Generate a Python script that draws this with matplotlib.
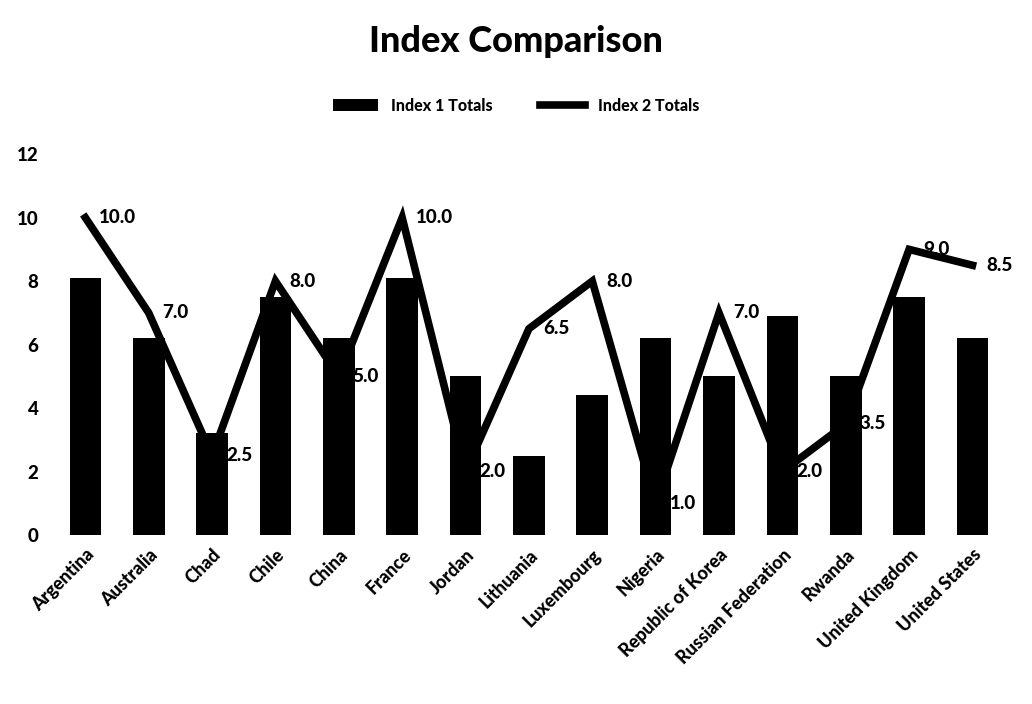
import matplotlib.pyplot as plt
import numpy as np

plt.rcParams['font.family'] = ['Lato', 'DejaVu Sans']

countries = ['Argentina', 'Australia', 'Chad', 'Chile', 'China', 'France', 'Jordan',
             'Lithuania', 'Luxembourg', 'Nigeria', 'Republic of Korea',
             'Russian Federation', 'Rwanda', 'United Kingdom', 'United States']
index1 = [8.1, 6.2, 3.2, 7.5, 6.2, 8.1, 5.0, 2.5, 4.4, 6.2, 5.0, 6.9, 5.0, 7.5, 6.2]
index2 = [10.0, 7.0, 2.5, 8.0, 5.0, 10.0, 2.0, 6.5, 8.0, 1.0, 7.0, 2.0, 3.5, 9.0, 8.5]

x = np.arange(len(countries))

fig = plt.figure(figsize=(10.32, 7.04), dpi=100)
ax = fig.add_axes([0.052, 0.24, 0.921, 0.541])

# line sits behind the bars, labels on top of everything
ax.plot(x, index2, color='black', linewidth=5.5, zorder=2, label='Index 2 Totals',
        solid_joinstyle='miter')
ax.bar(x, index1, width=0.5, color='black', zorder=3, label='Index 1 Totals')

for xi, v in zip(x, index2):
    ax.annotate(f'{v:.1f}', (xi, v), xytext=(10, 0), textcoords='offset points',
                ha='left', va='center', fontsize=13.5, fontweight='black', zorder=5)

ax.set_ylim(0, 12)
ax.set_yticks(range(0, 13, 2))
ax.set_xlim(-0.5, len(countries) - 0.5)
ax.set_xticks(x)
ax.set_xticklabels(countries, rotation=45, ha='right', rotation_mode='anchor',
                   fontsize=13, fontweight='black')
for lbl in ax.get_yticklabels():
    lbl.set_fontsize(13.5)
    lbl.set_fontweight('black')
ax.tick_params(length=0, pad=8)
ax.tick_params(axis='y', pad=11)
for s in ax.spines.values():
    s.set_visible(False)

fig.suptitle('Index Comparison', fontsize=26, fontweight='black', y=0.965)
handles, labels = ax.get_legend_handles_labels()
fig.legend(handles[::-1], labels[::-1], loc='center', bbox_to_anchor=(0.5, 0.85),
           ncol=2, frameon=False, prop={'weight': 'black', 'size': 11.5},
           handlelength=2.8, columnspacing=3)

fig.savefig('out.png', dpi=100)
